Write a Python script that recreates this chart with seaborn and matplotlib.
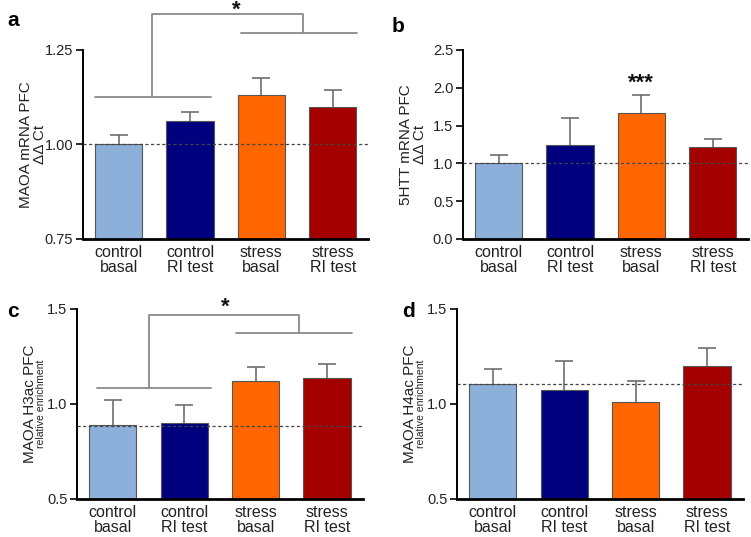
import numpy as np
import pandas as pd
import matplotlib
matplotlib.use("Agg")
import matplotlib.pyplot as plt
import seaborn as sns

sns.set_theme(style="ticks")
plt.rcParams['font.family'] = ['Liberation Sans', 'DejaVu Sans']

groups = ["control\nbasal", "control\nRI test", "stress\nbasal", "stress\nRI test"]
colors = ["#8DB0DA", "#00007F", "#FF6600", "#A50000"]

maoa_mrna = [1.00, 1.063, 1.13, 1.10]
maoa_mrna_err = [0.025, 0.022, 0.045, 0.045]
htt_mrna = [1.00, 1.24, 1.67, 1.21]
htt_mrna_err = [0.11, 0.36, 0.23, 0.11]
h3ac = [0.889, 0.898, 1.123, 1.139]
h3ac_err = [0.134, 0.095, 0.072, 0.071]
h4ac = [1.107, 1.075, 1.01, 1.20]
h4ac_err = [0.079, 0.153, 0.111, 0.093]

fig = plt.figure(figsize=(7.51, 5.37), dpi=100)

panels = [
    dict(vals=maoa_mrna, err=maoa_mrna_err, pos=[0.1105, 0.555, 0.380, 0.352],
         ylim=(0.75, 1.25), ticks=[0.75, 1.00, 1.25], fmt="{:.2f}", ref=1.00,
         ylabel="MAOA mRNA PFC\nΔΔ Ct", sub=None, letter="a", lpos=(0.010, 0.980)),
    dict(vals=htt_mrna, err=htt_mrna_err, pos=[0.6165, 0.555, 0.380, 0.352],
         ylim=(0.0, 2.5), ticks=[0.0, 0.5, 1.0, 1.5, 2.0, 2.5], fmt="{:.1f}", ref=1.00,
         ylabel="5HTT mRNA PFC\nΔΔ Ct", sub=None, letter="b", lpos=(0.522, 0.968)),
    dict(vals=h3ac, err=h3ac_err, pos=[0.1025, 0.0708, 0.3805, 0.3538],
         ylim=(0.5, 1.5), ticks=[0.5, 1.0, 1.5], fmt="{:.1f}", ref=0.884,
         ylabel="MAOA H3ac PFC", sub="relative enrichment", letter="c", lpos=(0.010, 0.438)),
    dict(vals=h4ac, err=h4ac_err, pos=[0.6085, 0.0708, 0.3805, 0.3538],
         ylim=(0.5, 1.5), ticks=[0.5, 1.0, 1.5], fmt="{:.1f}", ref=1.105,
         ylabel="MAOA H4ac PFC", sub="relative enrichment", letter="d", lpos=(0.535, 0.438)),
]

axes = []
for p in panels:
    ax = fig.add_axes(p["pos"])
    df = pd.DataFrame({"group": groups, "value": p["vals"]})
    sns.barplot(data=df, x="group", y="value", hue="group", palette=colors,
                legend=False, width=0.66, edgecolor="#555555", linewidth=0.8,
                saturation=1, ax=ax, errorbar=None, zorder=2)
    _, caps, _ = ax.errorbar(range(4), p["vals"], yerr=[np.zeros(4), p["err"]], fmt="none",
                             ecolor="#6e6e6e", elinewidth=1.2, capsize=6.5, capthick=1.2, zorder=1)
    if len(caps) > 1:
        caps[0].set_visible(False)
    ax.set_ylim(*p["ylim"])
    ax.set_xlim(-0.5, 3.5)
    ax.axhline(p["ref"], color="#444444", linestyle=(0, (2.5, 2)), linewidth=0.9, zorder=3)
    ax.set_yticks(p["ticks"])
    ax.set_yticklabels([p["fmt"].format(t) for t in p["ticks"]], fontsize=10.5, color="#222222")
    ax.set_xticks(range(4))
    ax.set_xticklabels(groups, fontsize=11.5, color="#222222", linespacing=1.05)
    ax.tick_params(axis="x", length=0, pad=4)
    ax.tick_params(axis="y", length=5, width=1.4, pad=2)
    ax.set_xlabel("")
    ax.set_ylabel("")
    for s in ["top", "right"]:
        ax.spines[s].set_visible(False)
    ax.spines["left"].set_linewidth(1.4)
    ax.spines["bottom"].set_linewidth(2.0)
    ax.spines["left"].set_color("black")
    ax.spines["bottom"].set_color("black")
    if p["sub"] is None:
        ax.text(-0.175, 0.5, p["ylabel"], transform=ax.transAxes, rotation=90,
                ha="center", va="center", fontsize=11, color="#222222", linespacing=1.0)
    else:
        ax.text(-0.165, 0.5, p["ylabel"], transform=ax.transAxes, rotation=90,
                ha="center", va="center", fontsize=11, color="#222222")
        ax.text(-0.125, 0.5, p["sub"], transform=ax.transAxes, rotation=90,
                ha="center", va="center", fontsize=7.5, color="#222222")
    fig.text(p["lpos"][0], p["lpos"][1], p["letter"], fontsize=15, fontweight="bold",
             ha="left", va="top", color="black")
    axes.append(ax)

def bracket(ax, left, right, top, star_x, star_y):
    kw = dict(color="#8a8a8a", linewidth=1.3, clip_on=False, zorder=4)
    ax.plot([left[0], left[1]], [left[2], left[2]], **kw)
    ax.plot([right[0], right[1]], [right[2], right[2]], **kw)
    lx, rx = top[0], top[1]
    ax.plot([lx, lx, rx, rx], [left[2], top[2], top[2], right[2]], **kw)
    ax.text(star_x, star_y, "*", ha="center", va="center", fontsize=16,
            fontweight="bold", color="#111111", clip_on=False)

bracket(axes[0], (-0.33, 1.30, 1.125), (1.72, 3.34, 1.294), (0.47, 2.58, 1.344), 1.65, 1.355)
bracket(axes[2], (-0.22, 1.37, 1.084), (1.73, 3.35, 1.374), (0.51, 2.61, 1.467), 1.58, 1.51)
axes[1].text(2, 2.06, "***", ha="center", va="center", fontsize=16,
             fontweight="bold", color="#111111")

fig.savefig("out.png", dpi=100)
